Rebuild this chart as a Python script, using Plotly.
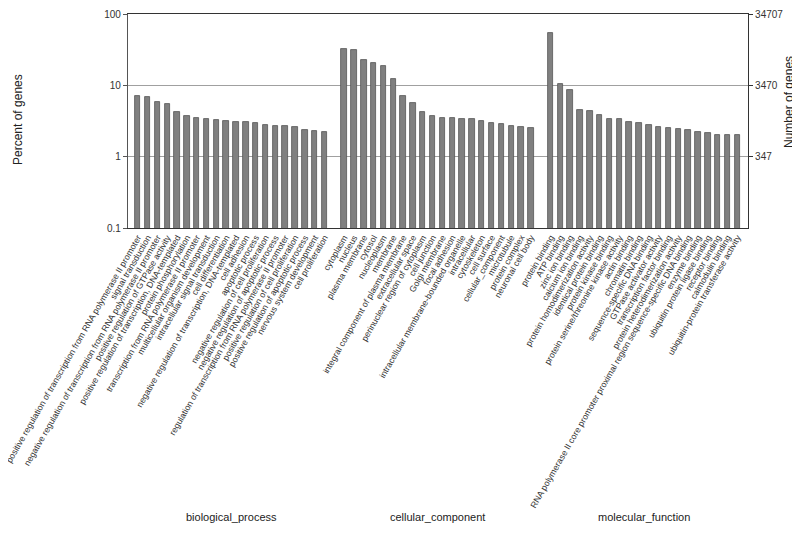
import math
import plotly.graph_objects as go

groups = ["biological_process", "cellular_component", "molecular_function"]

bp_terms = [
    "positive regulation of transcription from RNA polymerase II promoter",
    "signal transduction",
    "negative regulation of transcription from RNA polymerase II promoter",
    "positive regulation of GTPase activity",
    "positive regulation of transcription, DNA-templated",
    "protein phosphorylation",
    "transcription from RNA polymerase II promoter",
    "multicellular organism development",
    "intracellular signal transduction",
    "cell differentiation",
    "negative regulation of transcription, DNA-templated",
    "cell adhesion",
    "apoptotic process",
    "negative regulation of cell proliferation",
    "negative regulation of apoptotic process",
    "regulation of transcription from RNA polymerase II promoter",
    "positive regulation of cell proliferation",
    "positive regulation of apoptotic process",
    "nervous system development",
    "cell proliferation",
]
bp_pct = [7.1, 6.8, 5.9, 5.4, 4.2, 3.7, 3.5, 3.32, 3.25, 3.18,
          3.1, 3.04, 2.92, 2.8, 2.68, 2.65, 2.6, 2.4, 2.3, 2.2]

cc_terms = [
    "cytoplasm", "nucleus", "plasma membrane", "cytosol", "nucleoplasm",
    "membrane", "integral component of plasma membrane", "extracellular space",
    "perinuclear region of cytoplasm", "cell junction", "Golgi membrane",
    "focal adhesion", "intracellular membrane-bounded organelle", "intracellular",
    "cytoskeleton", "cell surface", "cellular_component", "microtubule",
    "protein complex", "neuronal cell body",
]
cc_pct = [32.0, 31.0, 22.6, 20.8, 18.7, 12.2, 7.1, 5.6, 4.2, 3.72,
          3.54, 3.43, 3.39, 3.32, 3.21, 2.92, 2.89, 2.66, 2.6, 2.52]

mf_terms = [
    "protein binding", "ATP binding", "zinc ion binding", "calcium ion binding",
    "protein homodimerization activity", "identical protein binding",
    "protein kinase binding", "protein serine/threonine kinase activity",
    "actin binding", "chromatin binding", "sequence-specific DNA binding",
    "GTPase activator activity", "transcription factor binding",
    "protein heterodimerization activity",
    "RNA polymerase II core promoter proximal region sequence-specific DNA binding",
    "enzyme binding", "ubiquitin protein ligase binding", "receptor binding",
    "calmodulin binding", "ubiquitin-protein transferase activity",
]
mf_pct = [54.6, 10.4, 8.6, 4.46, 4.37, 3.81, 3.42, 3.32, 3.11, 2.98,
          2.8, 2.63, 2.5, 2.44, 2.33, 2.22, 2.12, 2.03, 2.0, 2.0]

right_ticks = [347, 3470, 34707]
total_genes = 34707

font = "Liberation Sans, Arial, sans-serif"

# the page body has an 8px margin, so the figure is drawn 8px in from the corner
OFF = 8
W, H = 800 - OFF, 534 - OFF
# plot area wanted at x 128..748, y 14..228 in window pixels
L, T = 128 - OFF, 14 - OFF
R, B = W - (748 - OFF), H - (228 - OFF)
pw, ph = W - L - R, H - T - B


def px_to_paper(x, y):
    # window pixels -> paper coords
    return (x - OFF - L) / pw, (H - B - (y - OFF)) / ph


fig = go.Figure()
xs, labels = [], []
group_centers = []
for g, (terms, vals) in enumerate([(bp_terms, bp_pct), (cc_terms, cc_pct), (mf_terms, mf_pct)]):
    gx = [g * (len(terms) + 1) + i for i in range(len(terms))]
    xs += gx
    labels += terms
    group_centers.append(sum(gx) / len(gx))
    fig.add_trace(go.Bar(
        x=gx, y=vals, width=0.55,
        marker=dict(color="#808080", line=dict(color="#555555", width=0.8)),
        showlegend=False, hovertext=terms,
    ))

# invisible trace so the right axis is drawn
fig.add_trace(go.Scatter(x=[xs[0]], y=[right_ticks[0]], yaxis="y2",
                         mode="markers", marker=dict(opacity=0), showlegend=False,
                         hoverinfo="skip"))

_, gy = px_to_paper(0, 517)
for name, cx in zip(groups, group_centers):
    fig.add_annotation(x=cx, y=gy, xref="x", yref="paper", text=name,
                       yanchor="middle",
                       showarrow=False, font=dict(size=11, color="#222"))

ax, ay = px_to_paper(18, 120)
fig.add_annotation(x=ax, y=ay, xref="paper", yref="paper", text="Percent of genes",
                   xanchor="center", yanchor="middle",
                   showarrow=False, textangle=-90, font=dict(size=12, color="#222"))
ax, ay = px_to_paper(789, 102)
fig.add_annotation(x=ax, y=ay, xref="paper", yref="paper", text="Number of genes",
                   xanchor="center", yanchor="middle",
                   showarrow=False, textangle=-90, font=dict(size=12, color="#222"))

fig.update_layout(
    width=W, height=H,
    margin=dict(l=L, r=R, t=T, b=B),
    plot_bgcolor="white", paper_bgcolor="white",
    font=dict(family=font, size=10, color="#333"),
    bargap=0,
    xaxis=dict(
        range=[-0.99, 62.09], tickmode="array", tickvals=xs, ticktext=labels,
        tickangle=-60, tickfont=dict(size=8.7, color="#333"),
        ticklabeloverflow="allow",
        showline=True, linecolor="#333", linewidth=1.2, mirror=True,
        showgrid=False, ticks="", zeroline=False, automargin=False,
    ),
    yaxis=dict(
        type="log", range=[-1, 2], tickvals=[0.1, 1, 10, 100],
        ticktext=["0.1", "1", "10", "100"], ticklabeloverflow="allow",
        showline=True, linecolor="#555", linewidth=1.2,
        ticks="outside", ticklen=4, tickcolor="#555",
        showgrid=True, gridcolor="#a0a0a0", gridwidth=1,
        zeroline=False, automargin=False,
    ),
    yaxis2=dict(
        type="log", overlaying="y", side="right",
        range=[math.log10(total_genes / 1000), math.log10(total_genes)],
        tickvals=right_ticks, ticktext=[str(v) for v in right_ticks],
        ticklabeloverflow="allow",
        showline=True, linecolor="#333", linewidth=1.2,
        ticks="outside", ticklen=4, tickcolor="#333",
        showgrid=False, zeroline=False, automargin=False,
    ),
)

fig.write_html("out.html")
